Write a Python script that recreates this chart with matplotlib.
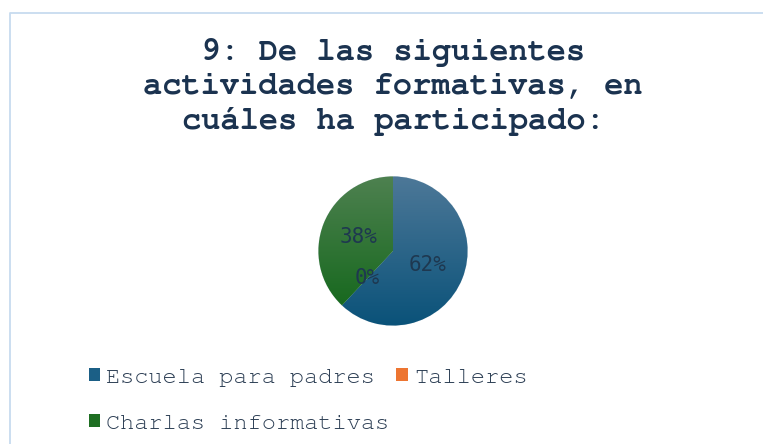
import numpy as np
import matplotlib
matplotlib.use('Agg')
import matplotlib.pyplot as plt
from matplotlib.colors import LinearSegmentedColormap
from matplotlib.patches import Rectangle
from matplotlib.lines import Line2D

# datos
categorias = ['Escuela para padres', 'Talleres', 'Charlas informativas']
porcentajes = [62, 0, 38]
titulo = '9: De las siguientes\nactividades formativas, en\ncuáles ha participado:'

# colores (arriba, abajo) del degradado de cada sector
col_arriba = ['#4d7898', '#f28a55', '#4e8150']
col_abajo = ['#0a5279', '#e8651e', '#0f6517']
col_base = ['#1b5f86', '#ed7531', '#1e6e22']
texto_oscuro = '#1b3350'
texto_leyenda = '#2c3e54'
mono = ['Courier New', 'Nimbus Mono PS', 'FreeMono', 'Liberation Mono']

W, H = 763, 444
fig = plt.figure(figsize=(W / 100, H / 100), dpi=100)

# borde azul claro del cuadro
fig.add_artist(Line2D([9.5 / W, 9.5 / W, 1.0], [0.0, 1 - 13.5 / H, 1 - 13.5 / H],
                      transform=fig.transFigure, color='#c7dbef', linewidth=1.3))

# titulo
fig.text(393 / W, 1 - 87 / H, titulo, ha='center', va='center',
         fontfamily=mono, fontweight='bold', fontsize=23,
         color=texto_oscuro, linespacing=1.3)

# pastel
cx, cy, r = 393, 251, 76
ax = fig.add_axes([(cx - r) / W, (H - cy - r) / H, 2 * r / W, 2 * r / H])
wedges, textos, autotextos = ax.pie(
    porcentajes, colors=col_base, startangle=90, counterclock=False,
    autopct='%1.0f%%', pctdistance=0.5, radius=1,
    wedgeprops=dict(edgecolor='#dfe6ea', linewidth=0.5),
    textprops=dict(fontfamily='DejaVu Sans Mono', fontsize=15, color='#1e3850'))

grad = np.linspace(0, 1, 256).reshape(-1, 1)
for w, c1, c2 in zip(wedges, col_arriba, col_abajo):
    cmap = LinearSegmentedColormap.from_list('g', [c1, c2])
    im = ax.imshow(grad, extent=(-1, 1, -1, 1), origin='upper', cmap=cmap,
                   aspect='auto', zorder=w.get_zorder() + 0.1)
    im.set_clip_path(w)
for t in autotextos:
    t.set_zorder(5)
ax.set_xlim(-1.02, 1.02)
ax.set_ylim(-1.02, 1.02)
ax.set_aspect('equal')
ax.axis('off')

# leyenda: orden por columnas para que quede Escuela/Talleres arriba y Charlas abajo
orden = [0, 2, 1]
handles = [Rectangle((0, 0), 1, 1, facecolor=col_base[i], edgecolor='none') for i in orden]
etiquetas = [categorias[i] for i in orden]
fig.legend(handles, etiquetas, ncol=2, frameon=False,
           loc='upper left', bbox_to_anchor=(72 / W, 1 - 351 / H),
           prop=dict(family=mono, size=17),
           labelcolor=texto_leyenda, handlelength=0.5, handleheight=0.5,
           handletextpad=0.25, columnspacing=0.3, labelspacing=1.15,
           borderpad=0.2)

fig.savefig('out.png', dpi=100, facecolor='white')
